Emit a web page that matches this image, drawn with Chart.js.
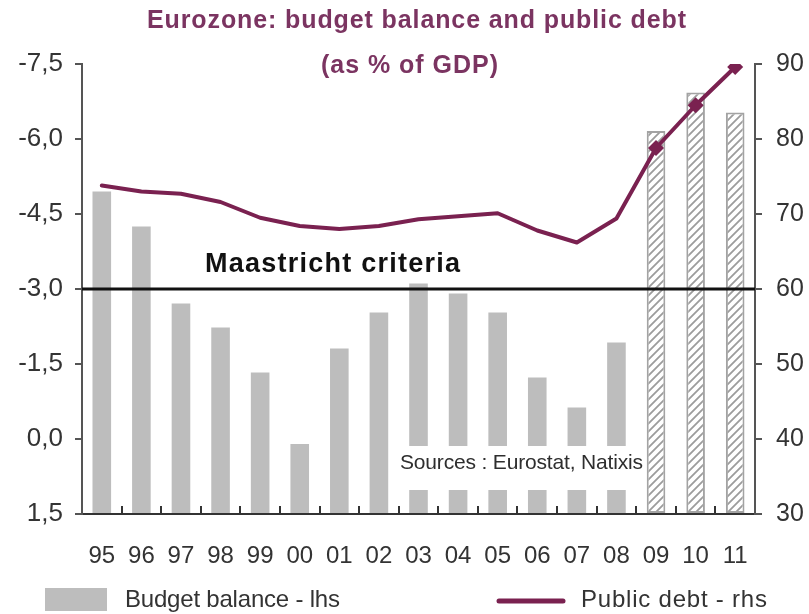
<!DOCTYPE html>
<html>
<head>
<meta charset="utf-8">
<title>Eurozone: budget balance and public debt</title>
<script src="https://cdn.jsdelivr.net/npm/chart.js@4.4.1/dist/chart.umd.min.js"></script>
<style>
  html, body { margin: 0; padding: 0; background: #fff; }
  #wrap { width: 809px; height: 614px; }
</style>
</head>
<body>
<div id="wrap"><canvas id="chartEurozone" width="809" height="614"></canvas></div>
<script>
// ============= DATA =============
const years = ['95', '96', '97', '98', '99', '00', '01', '02', '03', '04', '05', '06', '07', '08', '09', '10', '11'];
const budgetBalance = [-4.95, -4.25, -2.71, -2.23, -1.33, 0.1, -1.81, -2.53, -3.11, -2.91, -2.53, -1.23, -0.63, -1.93, -6.16, -6.93, -6.53];
const publicDebt = [73.8, 73.0, 72.7, 71.6, 69.5, 68.4, 68.0, 68.4, 69.3, 69.7, 70.1, 67.8, 66.2, 69.4, 78.8, 84.5, 89.6];
const balanceTicks = [-7.5, -6.0, -4.5, -3.0, -1.5, 0.0, 1.5];
const debtTicks = [30, 40, 50, 60, 70, 80, 90];
const maastrichtLimit = -3.0;
const forecastFrom = '09';

// ============= STYLE =============
const FONT = "'Liberation Sans', Arial, sans-serif";
const debtColour = '#7a2150';
const titleColour = '#7b3461';
const barGrey = '#bdbdbd';
const textGrey = '#333333';

const firstForecast = years.indexOf(forecastFrom);
function isForecast(i) { return i >= firstForecast; }

function formatComma(v) {
  if (Math.abs(v) < 1e-9) v = 0;
  return v.toFixed(1).replace('.', ',');
}

// diagonal hatch used for the forecast years
function hatchPattern(ctx) {
  const size = 8;
  const c = document.createElement('canvas');
  c.width = size; c.height = size;
  const p = c.getContext('2d');
  p.fillStyle = '#ffffff';
  p.fillRect(0, 0, size, size);
  p.strokeStyle = '#9c9c9c';
  p.lineWidth = 1.8;
  p.beginPath();
  p.moveTo(0, size); p.lineTo(size, 0);
  p.moveTo(-2, 2); p.lineTo(2, -2);
  p.moveTo(size - 2, size + 2); p.lineTo(size + 2, size - 2);
  p.stroke();
  return ctx.createPattern(c, 'repeat');
}

// text stretched by letter spacing to a given width, left edge at x
function spacedText(ctx, text, x, y, width, font, colour) {
  ctx.save();
  ctx.font = font;
  ctx.fillStyle = colour;
  ctx.textAlign = 'left';
  ctx.textBaseline = 'middle';
  const natural = ctx.measureText(text).width;
  const gap = (width - natural) / Math.max(text.length - 1, 1);
  if ('letterSpacing' in ctx) {
    ctx.letterSpacing = gap + 'px';
    ctx.fillText(text, x, y);
  } else {
    ctx.translate(x, y);
    ctx.scale(width / natural, 1);
    ctx.fillText(text, 0, 0);
  }
  ctx.restore();
}

// ============= OVERLAY: title, Maastricht line, sources, legend =============
const overlay = {
  id: 'overlay',
  beforeDraw(chart) {
    const ctx = chart.ctx;
    ctx.save();
    ctx.fillStyle = '#ffffff';
    ctx.fillRect(0, 0, chart.width, chart.height);
    ctx.restore();
  },
  afterDatasetsDraw(chart) {
    const { ctx, chartArea, scales } = chart;

    // sources note sits on a white patch over the bars
    ctx.save();
    ctx.fillStyle = '#ffffff';
    ctx.fillRect(394, 446, 249, 44);
    ctx.restore();
    spacedText(ctx, 'Sources : Eurostat, Natixis', 400, 463, 243, '21px ' + FONT, '#2e2e2e');

    // 3% deficit threshold
    const y = scales.yBalance.getPixelForValue(maastrichtLimit);
    ctx.save();
    ctx.strokeStyle = '#111111';
    ctx.lineWidth = 3;
    ctx.beginPath();
    ctx.moveTo(chartArea.left, y);
    ctx.lineTo(chartArea.right, y);
    ctx.stroke();
    ctx.restore();
    spacedText(ctx, 'Maastricht criteria', 205, y - 24, 255, 'bold 27px ' + FONT, '#111111');
  },
  afterDraw(chart) {
    const ctx = chart.ctx;

    // title
    spacedText(ctx, 'Eurozone: budget balance and public debt', 147, 21, 539, 'bold 25px ' + FONT, titleColour);
    spacedText(ctx, '(as % of GDP)', 321, 66, 177, 'bold 25px ' + FONT, titleColour);

    // legend
    ctx.save();
    ctx.fillStyle = barGrey;
    ctx.fillRect(45, 588, 62, 23);
    ctx.strokeStyle = debtColour;
    ctx.lineWidth = 5;
    ctx.lineCap = 'round';
    ctx.beginPath();
    ctx.moveTo(499, 601);
    ctx.lineTo(563, 601);
    ctx.stroke();
    ctx.restore();
    spacedText(ctx, chart.data.datasets[0].label, 125, 600, 215, '24px ' + FONT, textGrey);
    spacedText(ctx, chart.data.datasets[1].label, 581, 600, 186, '24px ' + FONT, textGrey);
  }
};

// ============= CHART =============
const canvas = document.getElementById('chartEurozone');
const hatch = hatchPattern(canvas.getContext('2d'));

new Chart(canvas, {
  type: 'bar',
  data: {
    labels: years,
    datasets: [{
      type: 'bar',
      label: 'Budget balance - lhs',
      data: budgetBalance,
      yAxisID: 'yBalance',
      base: balanceTicks[balanceTicks.length - 1],
      backgroundColor: function(c) { return isForecast(c.dataIndex) ? hatch : barGrey; },
      borderColor: '#a3a3a3',
      borderWidth: function(c) { return isForecast(c.dataIndex) ? 2 : 0; },
      borderSkipped: false,
      categoryPercentage: 1,
      barPercentage: 0.47,
      order: 2
    }, {
      type: 'line',
      label: 'Public debt - rhs',
      data: publicDebt,
      yAxisID: 'yDebt',
      borderColor: debtColour,
      borderWidth: 4,
      borderJoinStyle: 'round',
      borderCapStyle: 'round',
      tension: 0,
      pointStyle: 'rectRot',
      pointRadius: function(c) { return isForecast(c.dataIndex) ? 8 : 0; },
      pointBackgroundColor: debtColour,
      pointBorderColor: debtColour,
      pointBorderWidth: 0,
      order: 1
    }]
  },
  options: {
    responsive: false,
    animation: false,
    devicePixelRatio: 1,
    layout: { padding: { top: 64, left: 0, right: 0, bottom: 0 } },
    plugins: {
      legend: { display: false },
      title: { display: false },
      tooltip: { enabled: true }
    },
    scales: {
      x: {
        afterFit: function(scale) { scale.height = 100; },
        grid: {
          display: true,
          drawOnChartArea: false,
          drawTicks: true,
          tickLength: -8,
          color: '#333333',
          lineWidth: 2
        },
        border: { display: true, color: '#333333', width: 2 },
        ticks: {
          padding: 36,
          color: textGrey,
          font: { family: FONT, size: 24 },
          maxRotation: 0,
          autoSkip: false
        }
      },
      yBalance: {
        position: 'left',
        reverse: true,
        min: balanceTicks[0],
        max: balanceTicks[balanceTicks.length - 1],
        afterBuildTicks: function(scale) {
          scale.ticks = balanceTicks.map(function(v) { return { value: v }; });
        },
        afterFit: function(scale) { scale.width = 82; },
        grid: {
          drawOnChartArea: false,
          tickLength: 7,
          color: '#555555',
          lineWidth: 2
        },
        border: { display: true, color: '#555555', width: 2 },
        ticks: {
          padding: 12,
          color: textGrey,
          font: { family: FONT, size: 26 },
          callback: function(v) { return formatComma(v); }
        }
      },
      yDebt: {
        position: 'right',
        min: debtTicks[0],
        max: debtTicks[debtTicks.length - 1],
        afterBuildTicks: function(scale) {
          scale.ticks = debtTicks.map(function(v) { return { value: v }; });
        },
        afterFit: function(scale) { scale.width = 54; },
        grid: {
          drawOnChartArea: false,
          tickLength: 7,
          color: '#555555',
          lineWidth: 2
        },
        border: { display: true, color: '#555555', width: 2 },
        ticks: {
          padding: 14,
          color: textGrey,
          font: { family: FONT, size: 25 }
        }
      }
    }
  },
  plugins: [overlay]
});
</script>
</body>
</html>
